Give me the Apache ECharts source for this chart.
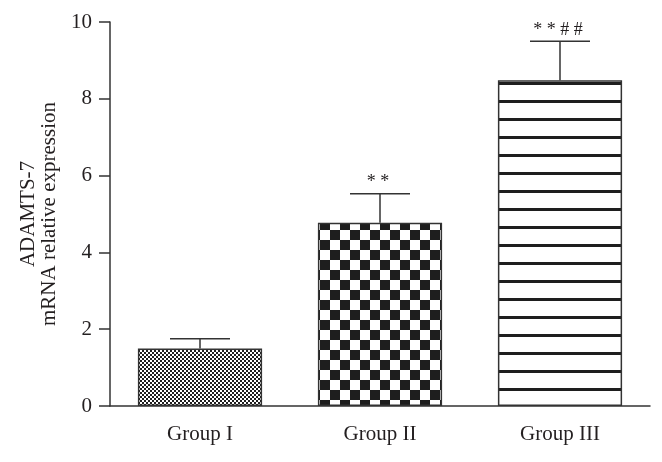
<!DOCTYPE html>
<html>
<head>
<meta charset="utf-8">
<script src="https://cdn.jsdelivr.net/npm/echarts@6/dist/echarts.min.js"></script>
<style>
    html, body { margin: 0; padding: 0; background: #fff; }
    #chart { width: 662px; height: 462px; }
</style>
</head>
<body>
<div id="chart"></div>
<script>
var categories = ['Group I', 'Group II', 'Group III'];
var means = [1.5, 4.77, 8.48];
var errors = [0.25, 0.76, 1.02];
var marks = ['', '* *', '* * # #'];
var yTicks = [0, 2, 4, 6, 8, 10];

var FONT = "'Liberation Serif', 'DejaVu Serif', serif";
var INK = '#231f20';

// 填充图案
function makePattern(w, h, draw) {
    var c = document.createElement('canvas');
    c.width = w;
    c.height = h;
    var ctx = c.getContext('2d');
    ctx.fillStyle = '#fff';
    ctx.fillRect(0, 0, w, h);
    ctx.fillStyle = '#1e1e1e';
    draw(ctx);
    return { image: c, repeat: 'repeat' };
}

var fineChecker = makePattern(4, 4, function (ctx) {
    ctx.fillRect(0, 0, 2, 2);
    ctx.fillRect(2, 2, 2, 2);
});
var bigChecker = makePattern(20, 20, function (ctx) {
    ctx.fillRect(0, 0, 10, 10);
    ctx.fillRect(10, 10, 10, 10);
});
var stripes = makePattern(18, 18, function (ctx) {
    ctx.fillRect(0, 10, 18, 3);
});
var fills = [fineChecker, bigChecker, stripes];

var barData = [];
for (var i = 0; i < means.length; i++) {
    barData.push({
        value: means[i],
        itemStyle: { color: fills[i], borderColor: '#333', borderWidth: 1.5 }
    });
}

var errData = [];
for (var j = 0; j < means.length; j++) {
    errData.push([j, means[j], means[j] + errors[j]]);
}

var chart = echarts.init(document.getElementById('chart'));
var option = {
    animation: false,
    grid: { left: 110, right: 12, top: 22, bottom: 56 },
    xAxis: {
        type: 'category',
        data: categories,
        axisLine: { lineStyle: { color: '#333', width: 1.5 } },
        axisTick: { alignWithLabel: true, length: 11, lineStyle: { color: '#333', width: 1.5 } },
        axisLabel: { color: INK, fontFamily: FONT, fontSize: 21, margin: 18 }
    },
    yAxis: {
        type: 'value',
        min: yTicks[0],
        max: yTicks[yTicks.length - 1],
        interval: 2,
        name: 'ADAMTS-7\nmRNA relative expression',
        nameLocation: 'middle',
        nameGap: 49,
        nameTextStyle: { color: INK, fontFamily: FONT, fontSize: 21, lineHeight: 21 },
        splitLine: { show: false },
        axisLine: { show: true, lineStyle: { color: '#333', width: 1.5 } },
        axisTick: { show: true, length: 11, lineStyle: { color: '#333', width: 1.5 } },
        axisLabel: { color: INK, fontFamily: FONT, fontSize: 21, margin: 18 }
    },
    series: [
        {
            type: 'bar',
            barWidth: '69%',
            data: barData
        },
        {
            type: 'custom',
            z: 5,
            data: errData,
            renderItem: function (params, api) {
                var x = api.value(0);
                var pBase = api.coord([x, api.value(1)]);
                var pTop = api.coord([x, api.value(2)]);
                var half = 30;
                var style = { stroke: '#333', lineWidth: 1.5 };
                return {
                    type: 'group',
                    children: [
                        { type: 'line', shape: { x1: pBase[0], y1: pBase[1], x2: pTop[0], y2: pTop[1] }, style: style },
                        { type: 'line', shape: { x1: pTop[0] - half, y1: pTop[1], x2: pTop[0] + half, y2: pTop[1] }, style: style },
                        {
                            type: 'text',
                            x: pTop[0] - 2,
                            y: pTop[1] - 2,
                            style: {
                                text: marks[params.dataIndex],
                                fill: INK,
                                font: '18px ' + FONT,
                                align: 'center',
                                verticalAlign: 'bottom'
                            }
                        }
                    ]
                };
            }
        }
    ]
};
chart.setOption(option);
</script>
</body>
</html>
